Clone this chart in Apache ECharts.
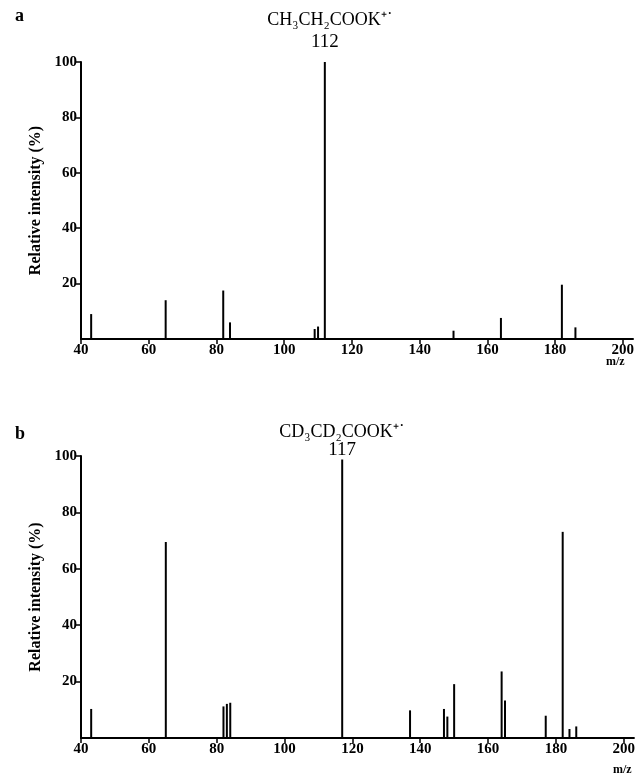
<!DOCTYPE html>
<html lang="en">
<head>
<meta charset="UTF-8">
<title>Mass spectra</title>
<script src="https://cdn.jsdelivr.net/npm/echarts@6/dist/echarts.min.js"></script>
<style>
  html, body { margin: 0; padding: 0; background: #fff; }
  #chart { width: 638px; height: 777px; }
</style>
</head>
<body>
<div id="chart"></div>
<script>
// spectrum a : CH3CH2COOK
const mzA = [43, 65, 82, 84, 109, 110, 112, 150, 164, 182, 186];
const intA = [9, 14, 17.5, 6, 3.6, 4.5, 100, 3, 7.6, 19.6, 4.2];
// spectrum b : CD3CD2COOK
const mzB = [43, 65, 82, 83, 84, 117, 137, 147, 148, 150, 164, 165, 177, 182, 184, 186];
const intB = [10.3, 69.5, 11.2, 12.1, 12.5, 98.8, 9.8, 10.3, 7.6, 19.1, 23.6, 13.3, 7.9, 73.1, 3.2, 4.1];

const xTicks = [40, 60, 80, 100, 120, 140, 160, 180, 200];
const yTicks = [20, 40, 60, 80, 100];
const basePeakA = 112;
const basePeakB = 117;

const tickFont = { fontFamily: 'Liberation Serif', fontWeight: 'bold', fontSize: 15, color: '#000' };

function xAxisFor(grid, max) {
  return {
    type: 'value', gridIndex: grid, min: 40, max: max,
    axisLine: { onZero: false, lineStyle: { color: '#000', width: 2 } },
    axisTick: { customValues: xTicks, length: 5, lineStyle: { color: '#000', width: 1.5 } },
    axisLabel: Object.assign({ customValues: xTicks, margin: 4 }, tickFont),
    splitLine: { show: false }
  };
}
function yAxisFor(grid) {
  return {
    type: 'value', gridIndex: grid, min: 0, max: 100, interval: 20,
    name: 'Relative intensity (%)', nameLocation: 'middle', nameGap: 37,
    nameTextStyle: { fontFamily: 'Liberation Serif', fontWeight: 'bold', fontSize: 16, color: '#000' },
    axisLine: { show: true, lineStyle: { color: '#000', width: 2 } },
    axisTick: { customValues: yTicks, length: 5, lineStyle: { color: '#000', width: 1.5 } },
    axisLabel: Object.assign({ customValues: yTicks, margin: 4 }, tickFont),
    splitLine: { show: false }
  };
}
function peaks(mz, inten, base, gap) {
  return mz.map((m, i) => {
    const d = { value: [m, inten[i]] };
    if (m === base) {
      d.label = { show: true, position: 'top', distance: gap, formatter: String(base),
        fontFamily: 'Liberation Serif', fontSize: 19, color: '#000' };
    }
    return d;
  });
}

const chart = echarts.init(document.getElementById('chart'), null, { renderer: 'canvas' });
chart.setOption({
  backgroundColor: '#fff',
  animation: false,
  title: [
    { text: 'a', left: 10, top: 2, textStyle: { fontFamily: 'Liberation Serif', fontWeight: 'bold', fontSize: 18, color: '#000' } },
    { text: 'CH₃CH₂COOK⁺˙', left: 325, top: 6, textAlign: 'center',
      textStyle: { fontFamily: 'Liberation Serif', fontWeight: 'normal', fontSize: 18, color: '#000' } },
    { text: 'b', left: 10, top: 420, textStyle: { fontFamily: 'Liberation Serif', fontWeight: 'bold', fontSize: 18, color: '#000' } },
    { text: 'CD₃CD₂COOK⁺˙', left: 337, top: 418, textAlign: 'center',
      textStyle: { fontFamily: 'Liberation Serif', fontWeight: 'normal', fontSize: 18, color: '#000' } }
  ],
  graphic: [
    { type: 'text', left: 606, top: 356, style: { text: 'm/z', font: 'bold 12px "Liberation Serif"', fill: '#000' } },
    { type: 'text', left: 613, top: 764, style: { text: 'm/z', font: 'bold 12px "Liberation Serif"', fill: '#000' } }
  ],
  grid: [
    { left: 81, right: 5, top: 62, height: 277 },
    { left: 81, right: 3, top: 456, height: 282 }
  ],
  xAxis: [xAxisFor(0, 203), xAxisFor(1, 203)],
  yAxis: [yAxisFor(0), yAxisFor(1)],
  series: [
    { type: 'bar', xAxisIndex: 0, yAxisIndex: 0, barWidth: 2,
      itemStyle: { color: '#000' }, data: peaks(mzA, intA, basePeakA, 10) },
    { type: 'bar', xAxisIndex: 1, yAxisIndex: 1, barWidth: 2,
      itemStyle: { color: '#000' }, data: peaks(mzB, intB, basePeakB, 0) }
  ]
});
</script>
</body>
</html>
